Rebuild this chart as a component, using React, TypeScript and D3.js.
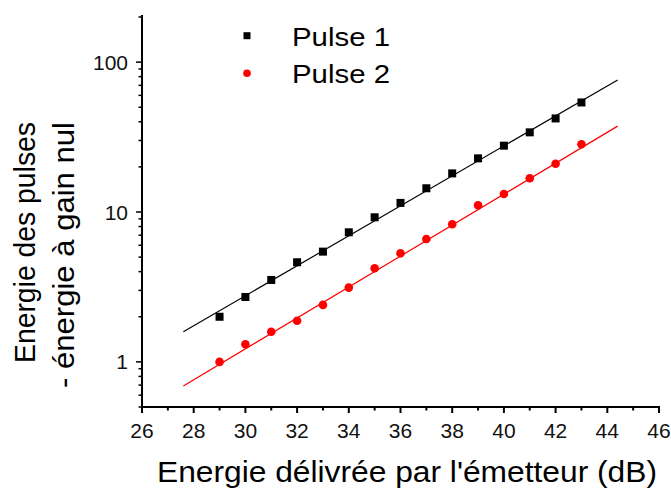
import React from 'react';
import * as d3 from 'd3';

// values
const gains = [29, 30, 31, 32, 33, 34, 35, 36, 37, 38, 39, 40, 41, 42, 43];
const pulse1 = [2.0, 2.71, 3.52, 4.62, 5.44, 7.32, 9.22, 11.5, 14.4, 18.1, 22.8, 27.7, 34.0, 42.1, 53.8];
const pulse2 = [1.0, 1.31, 1.59, 1.88, 2.4, 3.13, 4.21, 5.3, 6.61, 8.28, 11.1, 13.2, 16.8, 21.0, 28.3];

// linear fits (end points)
const fitX = [27.6, 44.4];
const fit1 = [1.59, 76];
const fit2 = [0.69, 37.4];

const xTicks = [26, 28, 30, 32, 34, 36, 38, 40, 42, 44, 46];
const yTickLabels = ['1', '10', '100'];

const FONT = "'Liberation Sans', Arial, sans-serif";

export default function App() {
  const width = 671;
  const height = 488;
  const left = 142;
  const right = 659;
  const top = 17;
  const bottom = 407;

  const x = d3.scaleLinear().domain([26, 46]).range([left, right]);
  const y = d3.scaleLog().domain([0.5, 200]).range([bottom, top]);

  const line = d3
    .line<[number, number]>()
    .x((d) => x(d[0]))
    .y((d) => y(d[1]));

  const minorX = d3.range(27, 46, 2);
  const yAll = y.ticks();
  const isMajor = (v: number) => Math.abs(Math.log10(v) - Math.round(Math.log10(v))) < 1e-9;

  return (
    <svg
      width={width}
      height={height}
      style={{ position: 'absolute', left: 0, top: 0, background: '#fff' }}
      fontFamily={FONT}
    >
      {/* fit lines */}
      <path d={line(fitX.map((v, i) => [v, fit1[i]]) as [number, number][]) || ''} stroke="#000" strokeWidth={1.2} fill="none" />
      <path d={line(fitX.map((v, i) => [v, fit2[i]]) as [number, number][]) || ''} stroke="#f00" strokeWidth={1.2} fill="none" />

      {/* points */}
      {gains.map((g, i) => (
        <rect key={'p1' + g} x={x(g) - 4} y={y(pulse1[i]) - 4} width={8} height={8} fill="#000" />
      ))}
      {gains.map((g, i) => (
        <circle key={'p2' + g} cx={x(g)} cy={y(pulse2[i])} r={4.3} fill="#f00" />
      ))}

      {/* axes */}
      <line x1={left} x2={left} y1={15} y2={bottom + 1} stroke="#000" strokeWidth={2} />
      <line x1={left - 1} x2={right + 1} y1={bottom} y2={bottom} stroke="#000" strokeWidth={2} />

      {xTicks.map((t) => (
        <g key={'xt' + t}>
          <line x1={x(t)} x2={x(t)} y1={bottom} y2={bottom + 6} stroke="#000" strokeWidth={2} />
          <text x={x(t)} y={438} fontSize={21} textAnchor="middle" fill="#111">
            {t}
          </text>
        </g>
      ))}
      {minorX.map((t) => (
        <line key={'xm' + t} x1={x(t)} x2={x(t)} y1={bottom} y2={bottom + 3.5} stroke="#000" strokeWidth={2} />
      ))}

      {yAll.map((v) => (
        <line
          key={'yt' + v}
          x1={left}
          x2={left - (isMajor(v) ? 6 : 3.5)}
          y1={y(v)}
          y2={y(v)}
          stroke="#000"
          strokeWidth={1.5}
        />
      ))}
      {yTickLabels.map((s) => (
        <text key={'yl' + s} x={128} y={y(+s) + 7.5} fontSize={21} textAnchor="end" fill="#111">
          {s}
        </text>
      ))}

      {/* axis titles */}
      <text x={157} y={482} fontSize={29} textLength={500} lengthAdjust="spacingAndGlyphs" fill="#000">
        Energie délivrée par l'émetteur (dB)
      </text>
      <text
        transform="translate(35,363) rotate(-90)"
        fontSize={29}
        textLength={241}
        lengthAdjust="spacingAndGlyphs"
        fill="#000"
      >
        Energie des pulses
      </text>
      <text
        transform="translate(74,388) rotate(-90)"
        fontSize={29}
        textLength={266}
        lengthAdjust="spacingAndGlyphs"
        fill="#000"
      >
        - énergie à gain nul
      </text>

      {/* legend */}
      <rect x={247 - 3.5} y={35.7 - 3.5} width={7} height={7} fill="#000" />
      <text x={292} y={45.7} fontSize={25} textLength={98} lengthAdjust="spacingAndGlyphs" fill="#000">
        Pulse 1
      </text>
      <circle cx={247} cy={73.3} r={3.8} fill="#f00" />
      <text x={292} y={83.3} fontSize={25} textLength={98} lengthAdjust="spacingAndGlyphs" fill="#000">
        Pulse 2
      </text>
    </svg>
  );
}
